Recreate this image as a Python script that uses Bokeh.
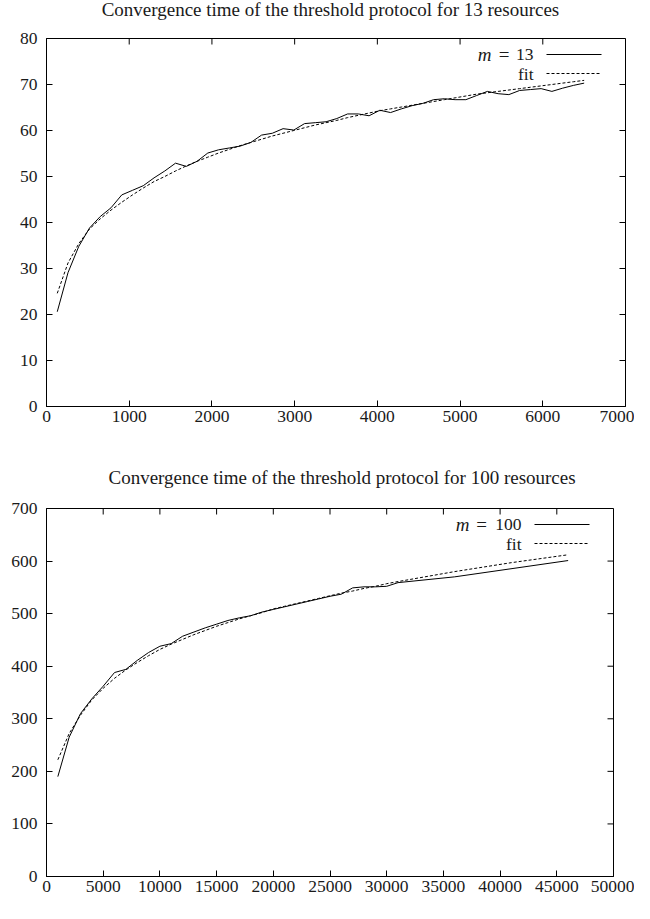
from bokeh.plotting import figure
from bokeh.layouts import column
from bokeh.models import FixedTicker, Label, Arrow, Range1d
from bokeh.embed import file_html
from bokeh.resources import INLINE

# ---------------- data: 13 resources ----------------
users_13 = [130, 260, 390, 520, 650, 780, 910, 1040, 1170, 1300,
            1430, 1560, 1690, 1820, 1950, 2080, 2210, 2340, 2470, 2600,
            2730, 2860, 2990, 3120, 3250, 3380, 3510, 3640, 3770, 3900,
            4030, 4160, 4290, 4420, 4550, 4680, 4810, 4940, 5070, 5200,
            5330, 5460, 5590, 5720, 5850, 5980, 6110, 6240, 6370, 6500]
time_13 = [20.6, 29.1, 34.8, 38.8, 41.3, 43.2, 46.0, 47.0, 48.0, 49.7,
           51.2, 52.9, 52.2, 53.3, 55.1, 55.8, 56.2, 56.6, 57.4, 59.0,
           59.4, 60.4, 60.1, 61.5, 61.7, 61.9, 62.6, 63.6, 63.6, 63.2,
           64.4, 63.9, 64.7, 65.4, 65.9, 66.7, 66.9, 66.7, 66.7, 67.6,
           68.5, 68.0, 67.8, 68.7, 68.9, 69.1, 68.5, 69.2, 69.8, 70.3]
fit_13 = [24.6, 31.2, 35.4, 38.6, 40.8, 42.7, 44.4, 46.0, 47.5, 48.9,
          50.0, 51.2, 52.3, 53.3, 54.2, 55.1, 55.9, 56.7, 57.4, 58.1,
          58.8, 59.4, 60.0, 60.6, 61.2, 61.7, 62.2, 62.8, 63.3, 63.8,
          64.3, 64.7, 65.1, 65.5, 65.9, 66.3, 66.7, 67.1, 67.5, 67.9,
          68.2, 68.5, 68.8, 69.1, 69.4, 69.7, 70.0, 70.3, 70.6, 70.9]
x_ticks_13 = [0, 1000, 2000, 3000, 4000, 5000, 6000, 7000]
y_ticks_13 = [0, 10, 20, 30, 40, 50, 60, 70, 80]
title_13 = "Convergence time of the threshold protocol for 13 resources"

# ---------------- data: 100 resources ----------------
users_100 = [1000, 2000, 3000, 4000, 5000, 6000, 7000, 8000, 9000, 10000,
             11000, 12000, 13000, 14000, 15000, 16000, 17000, 18000, 19000, 20000,
             21000, 22000, 23000, 24000, 25000, 26000, 27000, 28000, 29000, 30000,
             31000, 36000, 46000]
time_100 = [190, 265, 310, 338, 362, 388, 394, 411, 426, 438,
            443, 457, 465, 473, 480, 487, 492, 496, 503, 508,
            513, 518, 523, 528, 533, 537, 549, 551, 551, 552,
            559, 570, 601]
users_100_fit = [1000, 2000, 3000, 4000, 5000, 6000, 7000, 8000, 9000, 10000,
                 11000, 12000, 13000, 14000, 15000, 16000, 17000, 18000, 19000, 20000,
                 21000, 22000, 23000, 24000, 25000, 26000, 27000, 28000, 29000, 30000,
                 31000, 36000, 41000, 46000]
fit_100 = [222, 272, 307, 336, 358, 377, 393, 407, 420, 432,
           442, 451, 460, 468, 476, 483, 490, 496, 502, 509,
           514, 519, 524, 529, 534, 539, 543, 548, 552, 557,
           561, 580, 597, 612]
x_ticks_100 = [0, 5000, 10000, 15000, 20000, 25000, 30000, 35000, 40000, 45000, 50000]
y_ticks_100 = [0, 100, 200, 300, 400, 500, 600, 700]
title_100 = "Convergence time of the threshold protocol for 100 resources"

FONT = "Liberation Serif"
INK = "#1a1a1a"
TICK_PX = 6
PAGE_W = 634


def style_axis(ax, ticks, standoff):
    ax.ticker = FixedTicker(ticks=ticks)
    ax.axis_line_color = "black"
    ax.axis_line_width = 1
    ax.major_tick_line_color = "black"
    ax.major_tick_in = TICK_PX
    ax.major_tick_out = 0
    ax.minor_tick_line_color = None
    ax.major_label_text_font = FONT
    ax.major_label_text_font_size = "17.5px"
    ax.major_label_text_color = INK
    ax.major_label_standoff = standoff


def make_title(text, height, center_x_px, center_from_top_px):
    t = figure(width=PAGE_W, height=height, x_range=Range1d(0, PAGE_W),
               y_range=Range1d(0, height), output_backend="svg",
               toolbar_location=None, x_axis_type=None, y_axis_type=None,
               min_border_left=0, min_border_right=0, min_border_top=0,
               min_border_bottom=0, title=None)
    t.grid.visible = False
    t.outline_line_color = None
    t.background_fill_color = "white"
    t.border_fill_color = "white"
    t.add_layout(Label(x=center_x_px, y=height - center_from_top_px, text=text,
                       text_align="center", text_baseline="middle",
                       text_font=FONT, text_font_size="19px", text_color=INK))
    return t


def make_chart(xs, ys, fxs, fys, xr, yr, xt, yt, m_text, eq_off, m_off,
               fw, fh, left, right, top, bottom):
    p = figure(frame_width=fw, frame_height=fh,
               x_range=Range1d(*xr), y_range=Range1d(*yr),
               output_backend="svg", toolbar_location=None,
               min_border_left=left, min_border_right=right,
               min_border_top=top, min_border_bottom=bottom,
               title=None)
    p.grid.visible = False
    p.outline_line_color = "black"
    p.outline_line_width = 1
    p.background_fill_color = "white"
    p.border_fill_color = "white"

    style_axis(p.xaxis[0], xt, 4)
    style_axis(p.yaxis[0], yt, 9)

    dx = (xr[1] - xr[0]) / fw
    dy = (yr[1] - yr[0]) / fh

    # mirrored inward ticks on the top and right borders (gnuplot style)
    p.segment(x0=xt, y0=[yr[1]] * len(xt), x1=xt, y1=[yr[1] - TICK_PX * dy] * len(xt),
              line_color="black", line_width=1)
    p.segment(x0=[xr[1]] * len(yt), y0=yt, x1=[xr[1] - TICK_PX * dx] * len(yt), y1=yt,
              line_color="black", line_width=1)

    p.line(xs, ys, line_color="black", line_width=1)
    p.line(fxs, fys, line_color="black", line_width=1, line_dash="3 2")

    # legend (gnuplot style: label right-aligned, sample to the right)
    text_end = xr[1] - 92 * dx
    s0 = xr[1] - 79 * dx
    s1 = xr[1] - 24 * dx
    y1 = yr[1] - 16 * dy
    y2 = yr[1] - 35 * dy

    p.add_layout(Label(x=text_end, y=y1, text=m_text, text_align="right",
                       text_baseline="middle", text_font=FONT,
                       text_font_size="17.5px", text_color=INK))
    p.add_layout(Label(x=text_end - eq_off * dx, y=y1, text="=", text_align="center",
                       text_baseline="middle", text_font=FONT,
                       text_font_size="19px", text_color=INK))
    p.add_layout(Label(x=text_end - m_off * dx, y=y1, text="m", text_align="right",
                       text_baseline="middle", text_font=FONT, text_font_style="italic",
                       text_font_size="19px", text_color=INK))
    p.add_layout(Label(x=text_end, y=y2, text="fit", text_align="right",
                       text_baseline="middle", text_font=FONT,
                       text_font_size="17.5px", text_color=INK))
    p.add_layout(Arrow(x_start=s0, y_start=y1, x_end=s1, y_end=y1, end=None,
                       line_color="black", line_width=1))
    p.add_layout(Arrow(x_start=s0, y_start=y2, x_end=s1, y_end=y2, end=None,
                       line_color="black", line_width=1, line_dash="3 2"))
    return p


# top block: title strip 24px, chart frame at page y 46..414, x 42..621
t1 = make_title(title_13, 24, 317.5, 8.5)
p1 = make_chart(users_13, time_13, users_13, fit_13, (0, 7000), (0, 80),
                x_ticks_13, y_ticks_13, "13", 29.5, 42,
                579, 368, 34, 21, 14, 40)
# bottom block: title strip 44px, chart frame at page y 516..884, x 54..621
t2 = make_title(title_100, 44, 330.5, 31)
p2 = make_chart(users_100, time_100, users_100_fit, fit_100, (0, 50000), (0, 700),
                x_ticks_100, y_ticks_100, "100", 40, 52,
                567, 368, 46, 21, 18, 27)

layout = column(t1, p1, t2, p2, spacing=0)
open("out.html", "w").write(file_html(layout, INLINE))
